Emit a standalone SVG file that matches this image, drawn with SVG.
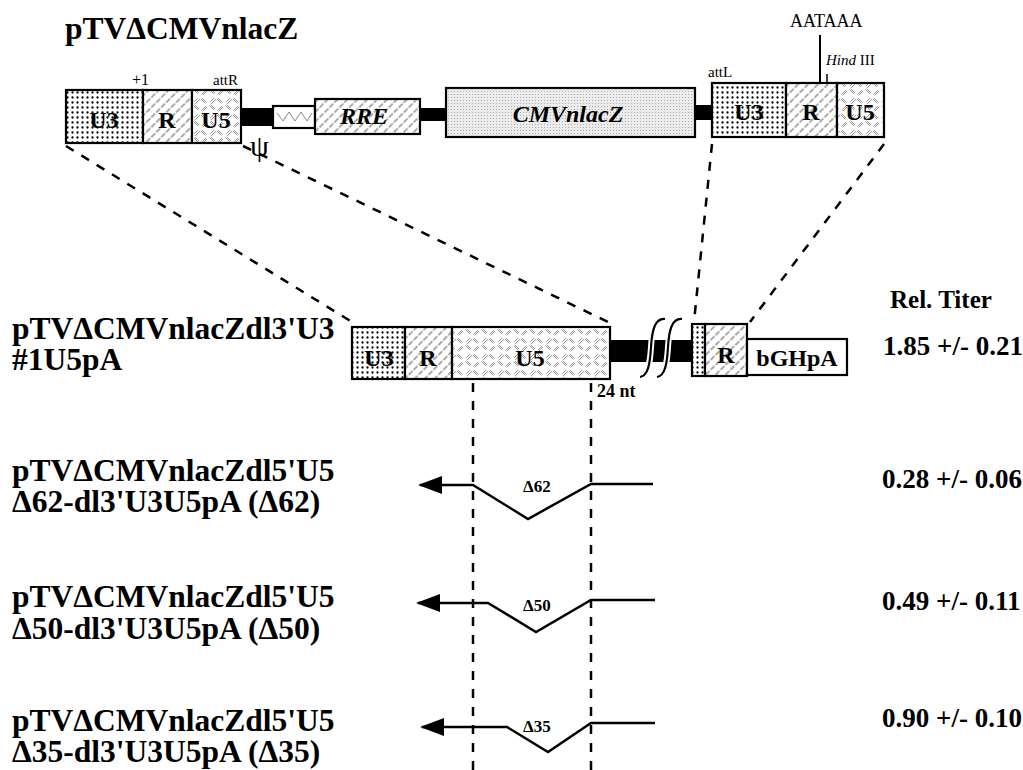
<svg xmlns="http://www.w3.org/2000/svg" width="1023" height="770" viewBox="0 0 1023 770" font-family="'Liberation Serif', 'Times New Roman', 'DejaVu Serif', serif">
<style>
text{font-family:'Liberation Serif','Times New Roman','DejaVu Serif',serif;fill:#000}
.b{font-weight:bold}
.t{font-size:31.5px;font-weight:bold}
.box{stroke:#000;stroke-width:2.2}
.bar{fill:#000}
.seg{font-size:24px;font-weight:bold;text-anchor:middle}
.dash{stroke:#000;stroke-width:2.5;stroke-dasharray:9 9;fill:none}
.del{stroke:#000;stroke-width:2.5;fill:none;marker-end:url(#ah)}
.titer{font-size:27px;font-weight:bold}
.dl{font-size:17px;font-weight:bold}
.sm{font-size:16px}
.brk{fill:none;stroke:#000;stroke-width:2.2}
.brkw{fill:none;stroke:#fff;stroke-width:6}
</style>
<defs>
<pattern id="dots" width="5" height="5" patternUnits="userSpaceOnUse"><rect width="5" height="5" fill="#fff"/><circle cx="2.5" cy="2.5" r="1.15" fill="#000"/></pattern>
<pattern id="hatch" width="7" height="7" patternUnits="userSpaceOnUse" patternTransform="rotate(45)"><rect width="7" height="7" fill="#fff"/><line x1="1" y1="0" x2="1" y2="7" stroke="#444" stroke-width="0.9" stroke-dasharray="4 1.5"/></pattern>
<pattern id="cross" width="16" height="16" patternUnits="userSpaceOnUse"><rect width="16" height="16" fill="#fff"/><path d="M2 6 L6 2 M3 8 L8 3 M10 14 L14 10 M11 15 L15 11 M10 2 L14 6 M9 3 L13 7 M2 10 L6 14 M3 9 L7 13" stroke="#777" stroke-width="0.8"/></pattern>
<pattern id="gray" width="3" height="3" patternUnits="userSpaceOnUse"><rect width="3" height="3" fill="#ececec"/><circle cx="1.5" cy="1.5" r="0.5" fill="#999"/></pattern>
<marker id="ah" viewBox="0 0 24 18" refX="22" refY="9" markerWidth="24" markerHeight="18" markerUnits="userSpaceOnUse" orient="auto"><path d="M0 0 L24 9 L0 18 Z" fill="#000"/></marker>
</defs>

<text x="65" y="39" class="t">pTVΔCMVnlacZ</text>

<g id="top-construct">
<g id="ltr5">
<rect x="66" y="90" width="77" height="53" fill="url(#dots)" class="box"/>
<rect x="143" y="90" width="49" height="53" fill="url(#hatch)" class="box"/>
<rect x="192" y="90" width="49" height="53" fill="url(#cross)" class="box"/>
<text x="104" y="128" class="seg">U3</text>
<text x="167" y="128" class="seg">R</text>
<text x="216" y="128" class="seg">U5</text>
<text x="132" y="85" class="sm">+1</text>
<text x="213" y="85" font-size="15">attR</text>
<text x="250" y="156" font-size="30">ψ</text>
</g>
<rect x="241" y="108" width="32" height="18" class="bar"/>
<g id="psi-box">
<rect x="273" y="106" width="42" height="22" fill="#fff" class="box"/>
<polyline points="277,113 283,121 289,112 295,121 301,112 307,121 312,113" fill="none" stroke="#888" stroke-width="1"/>
</g>
<g id="rre">
<rect x="315" y="99" width="105" height="35" fill="url(#hatch)" class="box"/>
<text x="364" y="124" class="seg" font-style="italic">RRE</text>
</g>
<rect x="420" y="108" width="26" height="13" class="bar"/>
<g id="cmv">
<rect x="446" y="88" width="249" height="49" fill="url(#gray)" class="box"/>
<text x="568" y="122" class="seg" font-style="italic">CMVnlacZ</text>
</g>
<rect x="695" y="105" width="17" height="15" class="bar"/>
<g id="ltr3">
<rect x="712" y="83" width="74" height="54" fill="url(#dots)" class="box"/>
<rect x="786" y="83" width="51" height="54" fill="url(#hatch)" class="box"/>
<rect x="837" y="83" width="47" height="54" fill="url(#cross)" class="box"/>
<text x="749" y="120" class="seg">U3</text>
<text x="811" y="120" class="seg">R</text>
<text x="860" y="120" class="seg">U5</text>
<text x="708" y="77" font-size="15">attL</text>
<line x1="820" y1="35" x2="820" y2="83" stroke="#000" stroke-width="2"/>
<line x1="827" y1="74" x2="827" y2="83" stroke="#000" stroke-width="1.5"/>
<text x="790" y="27" font-size="18">AATAAA</text>
<text x="826" y="65" font-size="15"><tspan font-style="italic">Hind</tspan> III</text>
</g>
</g>

<g id="connectors">
<line x1="66" y1="146" x2="352" y2="322" class="dash"/>
<line x1="243" y1="146" x2="608" y2="322" class="dash"/>
<line x1="712" y1="144" x2="694" y2="322" class="dash"/>
<line x1="884" y1="144" x2="750" y2="322" class="dash"/>
<line x1="473" y1="383" x2="473" y2="770" class="dash"/>
<line x1="591" y1="383" x2="591" y2="770" class="dash"/>
</g>

<g id="construct2">
<text x="12" y="339" class="t">pTVΔCMVnlacZdl3'U3</text>
<text x="12" y="370" class="t">#1U5pA</text>
<rect x="352" y="327" width="53" height="52" fill="url(#dots)" class="box"/>
<rect x="405" y="327" width="47" height="52" fill="url(#hatch)" class="box"/>
<rect x="452" y="327" width="158" height="52" fill="url(#cross)" class="box"/>
<text x="379" y="366" class="seg">U3</text>
<text x="428" y="366" class="seg">R</text>
<text x="530" y="366" class="seg">U5</text>
<rect x="610" y="340" width="83" height="22" class="bar"/>
<path d="M665 319 C655 318 652 330 651 347 C650 364 648 376 640 377" class="brkw"/>
<path d="M682 319 C672 318 669 330 668 347 C667 364 665 376 657 377" class="brkw"/>
<path d="M665 319 C655 318 652 330 651 347 C650 364 648 376 640 377" class="brk"/>
<path d="M682 319 C672 318 669 330 668 347 C667 364 665 376 657 377" class="brk"/>
<rect x="692" y="324" width="13" height="52" fill="url(#dots)" class="box"/>
<rect x="705" y="324" width="42" height="52" fill="url(#hatch)" class="box"/>
<text x="726" y="363" class="seg">R</text>
<rect x="747" y="339" width="100" height="36" fill="#fff" class="box"/>
<text x="797" y="366" class="seg">bGHpA</text>
<text x="597" y="397" font-size="18" class="b">24 nt</text>
</g>

<g id="titers">
<text x="890" y="308" font-size="25" class="b">Rel. Titer</text>
<text x="883" y="355" class="titer">1.85 +/- 0.21</text>
<text x="882" y="488" class="titer">0.28 +/- 0.06</text>
<text x="882" y="610" class="titer">0.49 +/- 0.11</text>
<text x="882" y="727" class="titer">0.90 +/- 0.10</text>
</g>

<g id="d62">
<text x="12" y="481" class="t">pTVΔCMVnlacZdl5'U5</text>
<text x="12" y="512" class="t">Δ62-dl3'U3U5pA (Δ62)</text>
<path d="M653 484 L591 484 L528 519 L473 485 L420 485" class="del"/>
<text x="523" y="492" class="dl">Δ62</text>
</g>
<g id="d50">
<text x="12" y="607" class="t">pTVΔCMVnlacZdl5'U5</text>
<text x="12" y="639" class="t">Δ50-dl3'U3U5pA (Δ50)</text>
<path d="M655 600 L591 600 L536 632 L488 603 L418 603" class="del"/>
<text x="523" y="611" class="dl">Δ50</text>
</g>
<g id="d35">
<text x="12" y="731" class="t">pTVΔCMVnlacZdl5'U5</text>
<text x="12" y="762" class="t">Δ35-dl3'U3U5pA (Δ35)</text>
<path d="M655 723 L591 723 L548 752 L507 727 L422 727" class="del"/>
<text x="523" y="732" class="dl">Δ35</text>
</g>
</svg>
